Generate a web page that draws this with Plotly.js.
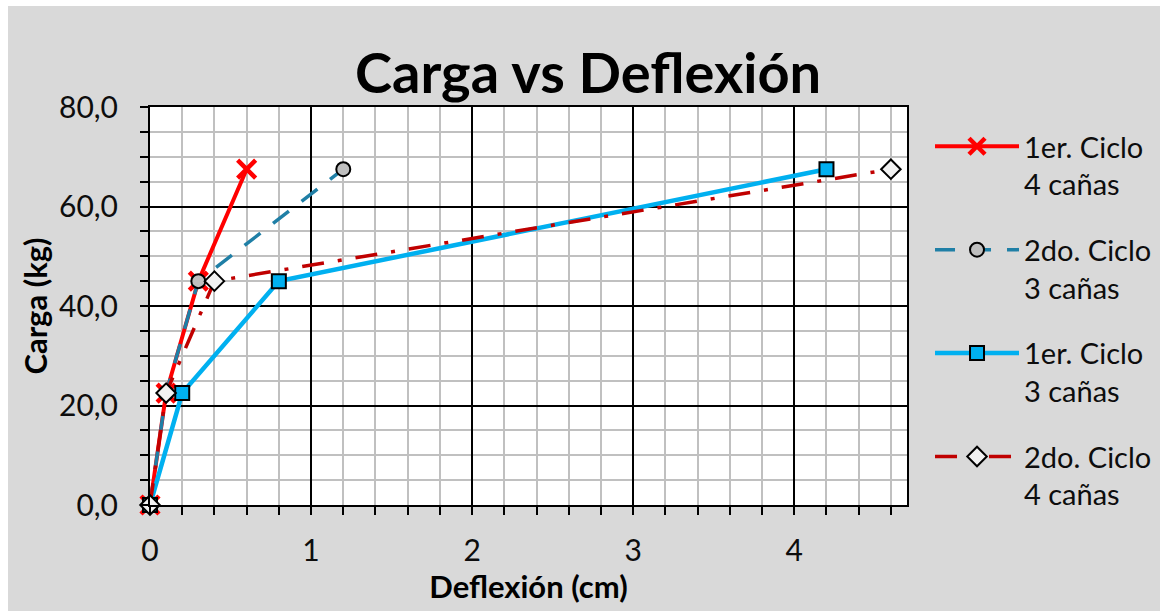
<!DOCTYPE html>
<html>
<head>
<meta charset="utf-8">
<script src="https://cdn.plot.ly/plotly-3.0.1.min.js"></script>
<style>html,body{margin:0;padding:0;background:#fff;}#chart{width:1160px;height:611px;}</style>
</head>
<body>
<div id="chart"></div>
<script>
// Data
const seriesNames = ["1er. Ciclo<br>4 cañas", "2do. Ciclo<br>3 cañas", "1er. Ciclo<br>3 cañas", "2do. Ciclo<br>4 cañas"];
const defl_1c4 = [0, 0.1, 0.3, 0.6];
const carga_1c4 = [0, 22.5, 45, 67.5];
const defl_2c3 = [0, 0.1, 0.3, 1.2];
const carga_2c3 = [0, 22.5, 45, 67.5];
const defl_1c3 = [0, 0.2, 0.8, 4.2];
const carga_1c3 = [0, 22.5, 45, 67.5];
const defl_2c4 = [0, 0.1, 0.4, 4.6];
const carga_2c4 = [0, 22.5, 45, 67.5];
const xTickVals = [0, 1, 2, 3, 4];
const yTickVals = [0, 20, 40, 60, 80];

const FONT = "Lato, 'Open Sans', sans-serif";

const traces = [
  {x: defl_1c4, y: carga_1c4, name: seriesNames[0], legendgroup: "a", mode: "lines+markers", cliponaxis: false,
   line: {color: "#ff0000", width: 4},
   marker: {symbol: "x-thin", size: 18, color: "#ff0000", line: {color: "#ff0000", width: 4.5}}},
  {x: defl_2c3, y: carga_2c3, name: seriesNames[1], legendgroup: "b", mode: "lines+markers", cliponaxis: false,
   line: {color: "#1f7fa6", width: 3.5, dash: "20px,16px"},
   marker: {symbol: "circle", size: 14, color: "#bfbfbf", line: {color: "#000", width: 2}}},
  {x: defl_1c3, y: carga_1c3, name: seriesNames[2], legendgroup: "c", mode: "lines+markers", cliponaxis: false,
   line: {color: "#00b0f0", width: 4.5},
   marker: {symbol: "square", size: 14, color: "#00b0f0", line: {color: "#000", width: 2}}},
  {x: defl_2c4, y: carga_2c4, name: seriesNames[3], legendgroup: "d", mode: "lines+markers", cliponaxis: false,
   line: {color: "#c00000", width: 3.5, dash: "22px,14px,4px,14px"},
   marker: {symbol: "diamond", size: 15, color: "#f2f2f2", line: {color: "#000", width: 2}}}
];

const layout = {
  width: 1160, height: 611,
  paper_bgcolor: "#d9d9d9",
  plot_bgcolor: "#ffffff",
  margin: {l: 150, r: 253, t: 107, b: 106, pad: 0, autoexpand: false},
  separators: ",.",
  font: {family: FONT, color: "#0d0d0d"},
  title: {text: "<b>Carga vs Deflexión</b>", font: {family: FONT, size: 56, color: "#000"},
          x: 0.507, xref: "container", y: 0.88, yref: "container", xanchor: "center", yanchor: "middle"},
  xaxis: {
    range: [0, 4.7], tickvals: xTickVals, tickformat: "d",
    showgrid: true, gridcolor: "#000", gridwidth: 2,
    zeroline: false, showline: true, linecolor: "#000", linewidth: 2, mirror: true,
    ticks: "outside", ticklen: 8, tickwidth: 2, tickcolor: "#000",
    ticklabelstandoff: 10,
    tickfont: {family: FONT, size: 30, color: "#0d0d0d"},
    minor: {dtick: 0.2, showgrid: true, gridcolor: "#c0c0c0", gridwidth: 2, ticks: "outside", ticklen: 8, tickwidth: 2, tickcolor: "#000"},
    title: {text: "<b>Deflexión (cm)</b>", font: {family: FONT, size: 31, color: "#000"}, standoff: 8},
    fixedrange: true
  },
  yaxis: {
    range: [0, 80], tickvals: yTickVals, tickformat: ".1f",
    showgrid: true, gridcolor: "#000", gridwidth: 2,
    zeroline: false, showline: true, linecolor: "#000", linewidth: 2, mirror: true,
    ticks: "outside", ticklen: 8, tickwidth: 2, tickcolor: "#000",
    ticklabelstandoff: 16,
    tickfont: {family: FONT, size: 30, color: "#0d0d0d"},
    minor: {dtick: 5, showgrid: true, gridcolor: "#c0c0c0", gridwidth: 2, ticks: "outside", ticklen: 8, tickwidth: 2, tickcolor: "#000"},
    title: {text: "<b>Carga (kg)</b>", font: {family: FONT, size: 31, color: "#000"}, standoff: 2},
    fixedrange: true
  },
  legend: {
    x: 1.0304, xanchor: "left", y: 0.965, yanchor: "top",
    bgcolor: "rgba(0,0,0,0)", borderwidth: 0,
    font: {family: FONT, size: 29, color: "#0d0d0d"},
    tracegroupgap: 25, itemwidth: 84, valign: "top"
  },
  showlegend: true,
  shapes: [
    {type: "rect", xref: "paper", yref: "paper", x0: -0.3, x1: -0.1876, y0: -0.4, y1: 1.4, fillcolor: "#fff", line: {width: 0}, layer: "above"},
    {type: "rect", xref: "paper", yref: "paper", x0: -0.3, x1: 1.4, y0: 1.254, y1: 1.4, fillcolor: "#fff", line: {width: 0}, layer: "above"}
  ]
};

Plotly.newPlot("chart", traces, layout, {displayModeBar: false, staticPlot: true});
</script>
</body>
</html>
